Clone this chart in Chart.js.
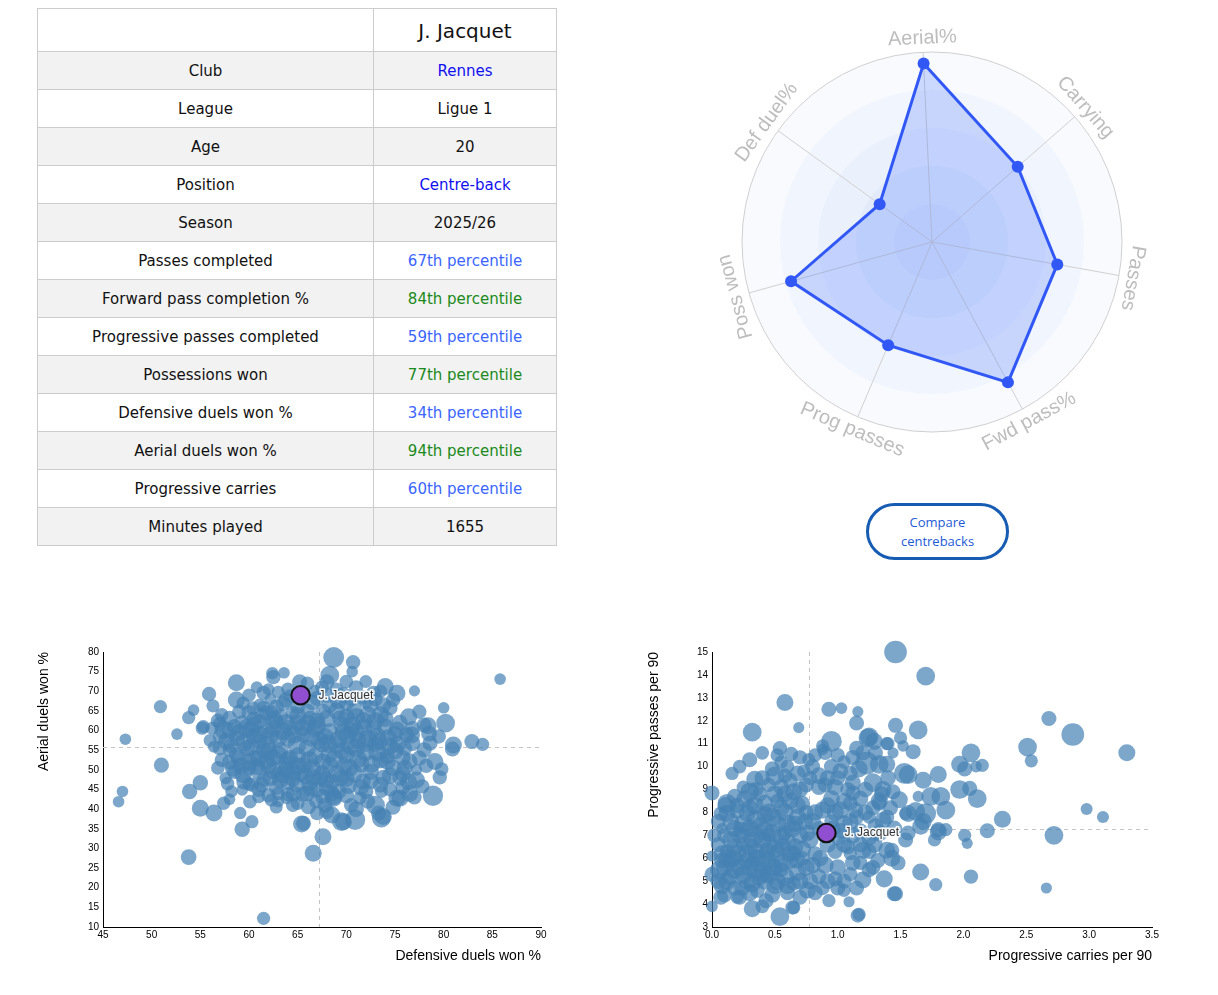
<!DOCTYPE html>
<html lang="en">
<head>
  <meta charset="UTF-8">
  <title>J. Jacquet</title>
  <script src="https://cdn.jsdelivr.net/npm/chart.js"></script>
  <style>
    body { margin: 0; background: #fff; width: 1218px; height: 995px; position: relative; overflow: hidden; }
    table { position: absolute; left: 37px; top: 8px; border-collapse: collapse; font-family: "DejaVu Sans", sans-serif; font-size: 15px; color: #111; }
    td { border: 1px solid #ccc; text-align: center; padding: 1px 0 0 0; height: 36px; }
    td.k { width: 335px; }
    td.v { width: 182px; }
    tr.head td { height: 41px; font-size: 20px; }
    tr.alt td { background: #f2f2f2; }
    .link { color: #1010ee; }
    .blue { color: #3a66ff; }
    .green { color: #1a8a1a; }
    canvas { position: absolute; }
    #compare { position: absolute; left: 866px; top: 503px; width: 143px; height: 57px; box-sizing: border-box;
      border: 3px solid #165cb3; border-radius: 29px; background: #fff; color: #1d5bd6;
      font-family: "Open Sans", sans-serif; font-size: 13px; line-height: 19px; padding: 0; }
  </style>
</head>
<body>
  <table id="profile"><tbody></tbody></table>
  <canvas id="radar" width="460" height="460" style="left:702px; top:12px;"></canvas>
  <button id="compare">Compare<br>centrebacks</button>
  <canvas id="duels" width="530" height="340" style="left:30px; top:640px;"></canvas>
  <canvas id="carries" width="530" height="340" style="left:640px; top:640px;"></canvas>
  <script>
    // profile table
    const player = 'J. Jacquet';
    const rowLabels = ['Club', 'League', 'Age', 'Position', 'Season', 'Passes completed', 'Forward pass completion %',
      'Progressive passes completed', 'Possessions won', 'Defensive duels won %', 'Aerial duels won %',
      'Progressive carries', 'Minutes played'];
    const rowValues = ['Rennes', 'Ligue 1', '20', 'Centre-back', '2025/26', 67, 84, 59, 77, 34, 94, 60, '1655'];
    const linkRows = ['Club', 'Position'];

    // radar
    const radarLabels = ['Aerial%', 'Carrying', 'Passes', 'Fwd pass%', 'Prog passes', 'Poss won', 'Def duel%'];
    const radarValues = [94, 60, 67, 84, 59, 77, 34];

    // defensive duels won % vs aerial duels won %, [x, y, minutes]
    const duelJacquet = [65.3, 69.0, 1655];
    const duelMedians = [67.2, 55.9];
    const duelPlayers = [
      [47.3,57.8,650],[50.9,66.1,850],[51.0,51.2,1100],[47.0,44.5,650],[46.6,41.9,650],[53.8,27.8,1200],[61.5,12.2,850],
      [52.6,59.1,650],[53.8,63.3,850],[54.3,65.2,650],[53.9,44.5,1150],[55.0,46.7,1150],[55.0,40.2,1400],[56.4,39.0,1400],
      [55.9,69.3,1000],[56.3,66.3,850],[58.7,72.2,1400],[56.4,55.9,700],[55.2,60.6,850],[57.6,47.9,750],[58.2,44.5,750],
      [57.4,41.5,850],[58.0,42.5,650],[59.1,39.0,750],[59.3,34.9,1150],[60.3,36.8,850],[59.3,44.9,650],[60.0,46.4,850],
      [65.4,36.2,1400],[66.6,28.8,1400],[67.6,33.0,1400],[67.0,39.0,1000],[62.4,74.6,750],[63.6,74.7,650],[62.5,73.6,1000],
      [61.5,69.6,1000],[65.2,72.4,1100],[58.7,67.8,1400],[59.4,67.0,850],[61.5,66.1,750],[63.5,66.9,1100],[62.2,68.0,700],
      [60.4,65.7,900],[61.1,66.5,800],[62.3,42.3,850],[63.0,41.9,650],[61.0,43.2,850],[63.9,42.9,800],[66.1,40.6,1100],
      [68.0,39.4,1100],[68.7,43.2,1400],[69.7,36.8,1400],[55.3,61.0,850],[56.2,60.6,800],[57.4,60.2,1700],[58.0,63.1,1100],
      [57.7,57.2,1400],[58.7,53.8,1100],[58.4,50.4,1400],[59.4,48.7,1400],[60.3,46.2,1000],[59.8,60.6,1700],[61.1,62.3,1100],
      [61.8,56.3,1700],[61.1,57.2,1100],[62.5,53.0,1400],[62.8,62.3,1100],[64.2,60.6,1400],[64.9,56.3,1700],[65.6,58.9,1200],
      [66.3,63.1,1100],[64.2,53.0,1300],[65.6,51.2,1300],[63.5,48.7,1400],[62.2,47.9,1200],[61.3,46.2,1100],[64.9,46.2,1200],
      [66.3,45.3,1200],[67.3,47.9,1300],[68.3,51.2,1400],[69.0,56.3,1500],[68.3,59.7,1400],[67.6,64.8,1200],[68.7,78.6,2100],
      [68.3,74.1,1700],[68.0,72.4,1100],[69.7,69.1,1200],[67.0,68.2,1100],[68.3,66.5,1200],[69.4,63.1,1300],[69.7,59.7,1400],
      [70.0,53.8,1400],[69.4,47.9,1300],[67.6,43.2,1200],[64.6,44.0,1200],[60.1,41.9,900],
      [70.7,77.4,1000],[70.6,75.0,650],[74.0,71.2,1400],[75.2,69.5,1400],[77.0,70.1,600],[72.8,69.5,1100],[80.0,65.8,650],
      [76.4,63.5,1400],[80.2,61.9,1700],[78.4,61.2,1400],[76.7,58.9,1400],[78.6,56.8,1100],[81.0,56.3,1400],[80.9,55.3,1100],
      [82.9,57.2,1100],[84.0,56.5,850],[79.1,52.1,1400],[77.2,50.0,650],[77.2,47.4,1400],[79.6,48.1,1000],[76.4,47.0,1400],
      [75.5,47.9,1100],[76.5,44.0,1400],[78.9,43.4,2000],[75.2,42.8,1400],[73.6,44.5,800],[71.4,42.8,850],[73.0,41.0,1700],
      [73.6,37.7,1700],[70.9,37.3,2000],[69.5,36.8,1700],[68.5,38.5,1400],[68.7,42.8,1400],[71.7,47.0,1200],[85.8,73.1,650],
      [73.3,39.0,1100],[73.8,38.1,1400],[65.6,36.4,1100],[76.2,58.9,1100],[78.0,55.1,1100],[78.0,61.4,1100],[75.5,42.8,1400],
      [60.5,58.5,1300],[61.8,60.0,1200],[63.0,58.0,1500],[63.2,55.0,1300],[62.0,51.0,1400],[63.8,51.5,1200],[64.5,49.5,1300],
      [65.8,48.5,1400],[66.5,50.5,1500],[66.8,53.5,1400],[66.0,55.5,1500],[67.5,56.5,1300],[67.8,58.5,1400],[66.8,60.5,1500],
      [65.0,62.0,1300],[66.0,65.0,1100],[64.5,64.5,1000],[63.2,63.5,1200],[62.3,64.8,900],[60.5,63.0,1000],[59.3,62.0,1100],
      [58.8,58.0,1200],[59.8,55.5,1300],[60.6,53.0,1200],[61.0,49.5,1300],[62.8,45.5,1100],[64.0,46.8,1100],[65.5,43.8,1100],
      [66.9,42.0,1000],[68.0,45.5,1300],[69.2,44.5,1200],[70.2,46.0,1400],[70.8,49.0,1500],[71.5,51.5,1400],[72.0,54.5,1500],
      [71.2,57.5,1400],[70.5,60.0,1300],[71.8,62.5,1500],[70.8,65.0,1300],[72.5,66.5,1200],[73.5,64.0,1400],[74.0,61.0,1300],
      [73.2,58.5,1500],[74.5,56.0,1400],[73.5,52.5,1400],[72.5,49.5,1300],[73.8,48.0,1200],[74.8,50.5,1300],[75.8,53.0,1200],
      [76.0,55.5,1100],[75.0,59.0,1300],[75.5,62.0,1200],[74.5,65.8,1100],[73.0,68.0,1000],[71.5,68.5,1100],[70.0,67.0,1200],
      [69.0,70.5,900],[71.0,71.0,1000],[72.0,72.5,800],[67.5,71.0,900],[66.8,70.0,800],[64.0,70.5,900],[63.0,69.8,800],
      [60.0,69.0,900],[60.8,71.0,700],[57.2,64.0,900],[56.8,62.5,1000],[58.5,61.0,1100],[57.0,58.5,1000],[58.0,55.0,900],
      [57.2,52.5,1000],[58.5,49.5,1000],[60.0,50.5,1100],[61.5,47.5,1000],[63.0,44.0,900],[65.0,41.5,900],[70.5,41.0,1000],
      [72.0,44.5,1100],[74.5,45.0,1000],[77.5,53.0,1100],[77.8,45.8,1000],[76.0,50.5,1200],[72.8,60.5,1300],[69.5,61.5,1300],
      [68.2,54.0,1400],[69.8,51.0,1300],[67.0,62.5,1300],[64.0,58.0,1400],[62.5,60.5,1400],[65.0,53.5,1400],[63.0,49.0,1100],
      [61.5,55.0,1300],[67.5,49.0,1300],[70.0,63.5,1300],[71.0,55.5,1500],[73.0,56.5,1300],[74.2,53.5,1200],[62.0,70.5,700],
      [59.5,57.0,1500],[60.2,60.2,1600],[61.0,59.0,1500],[62.2,58.8,1600],[63.5,59.8,1500],[64.6,59.0,1600],[65.5,60.8,1500],
      [66.4,58.2,1600],[67.2,57.5,1500],[68.1,56.6,1600],[69.2,57.8,1500],[70.1,58.8,1600],[71.0,59.6,1500],[72.2,58.0,1600],
      [73.4,57.2,1500],[74.3,58.2,1400],[75.3,56.5,1400],[70.4,56.2,1600],[69.6,54.8,1500],[68.8,52.8,1600],[67.6,52.0,1500],
      [66.2,52.5,1600],[65.0,51.0,1500],[64.0,52.5,1500],[63.0,53.8,1600],[62.0,54.6,1500],[61.0,53.0,1400],[60.0,52.0,1500],
      [59.2,51.0,1400],[60.8,50.8,1300],[62.5,49.8,1500],[63.8,50.0,1400],[65.2,49.2,1500],[66.6,48.2,1500],[67.9,47.5,1400],
      [69.0,49.0,1500],[70.3,50.5,1600],[71.2,52.8,1600],[72.6,51.5,1500],[73.2,54.5,1600],[74.2,52.2,1400],[75.0,54.8,1400],
      [72.0,56.8,1500],[70.6,61.5,1500],[71.8,60.8,1400],[73.0,62.5,1500],[72.2,64.0,1400],[71.0,63.5,1500],[69.0,65.0,1400],
      [68.0,63.0,1500],[67.0,61.2,1600],[66.0,61.8,1400],[65.0,63.8,1400],[63.8,62.0,1500],[62.6,62.8,1400],[61.5,63.8,1300],
      [60.5,61.2,1400],[59.0,59.5,1300],[58.2,56.2,1200],[59.0,53.0,1300],[60.2,55.8,1400],[61.8,52.2,1400],[63.2,47.5,1400],
      [64.5,47.8,1300],[66.2,46.8,1300],[67.0,45.0,1300],[68.5,47.0,1300],[70.0,47.8,1400],[71.5,45.5,1300],[72.5,47.2,1300],
      [73.5,46.2,1200],[74.5,48.5,1300],[75.8,49.0,1200],[76.5,52.2,1200],[76.8,56.8,1200],[75.2,60.2,1300],[74.0,63.0,1300],
      [73.8,66.5,1200],[72.0,67.5,1100],[70.5,68.2,1200],[69.2,67.5,1300],[68.0,69.0,1100],[66.5,67.2,1200],[65.0,66.2,1200],
      [63.8,67.8,1100],[62.8,66.0,1100],[61.8,64.5,1200],[60.0,64.5,1100],[59.0,64.8,1000],[58.0,60.0,1200],[57.0,55.5,1000],
      [58.0,52.0,1100],[59.5,47.0,1200],[61.0,45.0,1100],[62.0,43.5,1000],[64.0,43.8,1000],[66.0,44.0,1200],[68.5,44.0,1200],
      [70.0,43.5,1200],[71.0,40.0,1200],[72.2,42.0,1100],[67.8,41.0,1100],[64.5,41.0,900],[62.8,40.5,800],[57.8,46.5,900],
      [56.8,50.5,900],[56.0,57.5,800],[57.0,61.8,900],[76.8,60.5,1100],[77.5,64.8,1000],[74.8,67.8,1000],[73.5,70.0,900],
      [70.0,72.5,900],[66.0,72.0,900],[64.2,68.8,900],[78.2,51.0,1000],[77.0,43.0,1000],[79.5,58.5,1000],[78.5,59.2,1200],
      [79.8,50.2,900],[74.8,40.5,1100],[75.8,45.5,1100]
    ];

    // progressive carries per 90 vs progressive passes per 90, [x, y, minutes]
    const carryJacquet = [0.91, 7.1, 1655];
    const carryMedians = [0.77, 7.28];
    const carryPlayers = [
      [1.46,15.0,2500],[1.70,13.95,1700],[0.58,12.8,1400],[0.93,12.5,1100],[1.03,12.55,650],[1.16,12.4,600],[1.15,11.9,1100],
      [0.69,11.7,600],[0.32,11.5,1700],[0.95,11.1,2100],[0.88,10.9,850],[0.54,10.8,1000],[0.63,10.55,1000],[0.30,10.3,1100],
      [0.55,10.2,850],[0.16,9.7,850],[0.34,9.45,1400],[0.30,8.9,1700],[0.0,8.85,1100],[0.50,9.6,1700],[0.77,10.3,850],
      [1.24,11.25,1700],[1.29,11.1,1400],[1.39,11.0,850],[1.46,11.8,1100],[1.50,11.25,850],[1.52,10.9,650],[1.44,10.6,600],
      [1.15,10.8,1100],[1.33,10.1,1700],[1.53,9.7,2100],[1.17,9.9,1400],[1.28,9.3,1700],[1.44,8.9,1100],[1.49,8.55,1400],
      [1.33,8.5,1400],[1.12,8.85,1100],[1.25,7.8,850],[1.36,7.65,1400],[1.54,7.95,850],[1.56,7.1,1100],[1.33,7.1,1400],
      [1.20,6.35,1400],[1.39,6.35,1400],[1.08,6.5,1100],[1.10,6.2,850],[1.28,5.6,1100],[1.37,5.1,1400],[1.20,5.05,1400],
      [1.10,5.3,1000],[1.46,4.45,1100],[1.09,4.1,600],[1.16,3.5,1000],[0.93,4.15,850],[0.64,3.85,1000],[0.54,3.45,1700],
      [0.32,3.8,1400],[0.0,3.9,650],[0.07,4.3,1100],[0.20,4.3,850],[0.08,4.8,1400],[0.0,5.3,1100],[0.06,5.5,1700],
      [0.0,6.1,600],[0.08,6.2,1400],[0.12,7.95,1400],[0.07,7.95,1000],[0.12,8.4,1700],[0.20,8.3,1100],[0.28,7.95,1400],
      [0.65,3.85,850],[0.76,4.6,1400],[0.43,4.15,1100],[0.22,4.3,1100],[0.08,7.3,600],[0.11,8.3,1400],[0.73,9.8,850],
      [0.88,10.75,650],
      [1.64,11.6,1700],[1.25,11.3,1700],[1.40,11.0,850],[1.60,10.65,1100],[2.06,10.6,1700],[1.97,10.1,1400],[2.01,9.9,1100],
      [2.10,10.0,650],[2.15,10.05,850],[1.23,10.15,2500],[1.39,10.1,1400],[1.68,9.4,1400],[1.80,9.65,1400],[1.97,9.0,1700],
      [2.05,9.05,1100],[2.11,8.6,1700],[1.82,8.7,1700],[1.74,8.7,1700],[1.64,8.7,600],[1.86,8.1,1700],[1.70,7.95,2100],
      [1.62,8.05,1700],[1.56,7.95,1400],[1.66,7.4,1400],[1.80,7.25,1100],[1.86,7.25,850],[1.68,7.6,1400],[1.77,6.8,850],
      [2.01,7.0,850],[2.03,6.65,600],[1.54,6.8,1100],[1.43,6.35,1100],[1.43,6.0,1400],[1.29,6.6,1400],[1.66,5.4,1400],
      [1.78,4.85,850],[2.06,5.2,1000],[1.45,4.45,1100],[1.25,5.5,1100],[1.17,3.55,850],[1.39,7.8,1100],[1.33,8.4,1100],
      [1.36,9.0,1400],[2.31,7.7,1400],[2.98,8.15,700],[3.11,7.8,700],[2.72,7.0,1700],[2.19,7.2,1100],[2.68,12.1,1100],
      [2.87,11.4,2500],[3.30,10.6,1400],[2.51,10.85,1700],[2.54,10.25,850],[2.66,4.7,600],[1.80,7.15,1400],[1.56,9.65,1700],
      [0.15,5.9,1400],[0.18,6.5,1400],[0.22,7.0,1400],[0.25,7.5,1700],[0.20,8.05,1100],[0.30,8.2,1400],[0.35,7.7,1700],
      [0.32,6.8,1400],[0.28,6.2,1700],[0.22,5.6,1400],[0.15,5.2,1400],[0.28,5.0,1400],[0.35,5.5,1700],[0.40,6.0,1700],
      [0.45,6.6,1700],[0.42,7.2,1700],[0.48,7.8,1700],[0.42,8.4,1400],[0.50,8.8,1400],[0.55,8.2,1400],[0.60,7.5,1700],
      [0.55,6.9,1400],[0.52,6.2,1400],[0.48,5.6,1700],[0.42,5.0,1400],[0.36,4.6,1100],[0.50,4.8,1400],[0.58,5.2,1700],
      [0.62,5.9,1400],[0.66,6.5,1400],[0.70,7.0,1400],[0.68,7.8,1400],[0.72,8.4,1100],[0.65,8.9,1400],[0.62,9.4,1100],
      [0.75,9.2,1100],[0.85,9.6,1400],[0.90,9.2,1100],[0.95,8.6,1400],[0.88,8.1,1400],[0.80,7.6,1400],[0.78,6.8,1400],
      [0.82,6.2,1100],[0.75,5.6,1400],[0.70,5.0,1400],[0.85,5.2,1100],[0.90,5.7,1400],[0.98,6.3,1100],[1.00,6.9,1100],
      [1.05,7.5,1400],[1.02,8.1,1400],[1.10,8.4,1100],[1.08,9.0,1100],[1.00,9.5,1100],[0.95,10.0,1100],[1.05,10.2,850],
      [1.10,9.7,1100],[1.18,7.2,1100],[1.15,7.8,1100],[1.18,5.8,1000],[0.98,5.1,1100],[0.88,4.7,1000],[1.05,4.6,850],
      [0.60,4.5,1100],[0.30,4.5,1400],[0.10,5.6,1400],[0.05,6.6,1100],[0.10,7.0,1100],[0.15,7.6,1400],[0.38,8.8,1100],
      [0.45,9.2,1000],[0.25,9.1,900],[0.60,10.0,900],[0.70,10.4,1000],[0.82,10.5,900],[0.25,6.6,1100],[0.32,5.8,1100],
      [0.40,5.3,1400],[0.55,5.5,1100],[0.65,6.2,1100],[0.58,7.1,1100],[0.35,6.3,1400],[0.45,7.0,1000],[0.52,8.5,1000],
      [0.75,8.0,1100],[0.85,7.3,1100],[0.95,7.6,1000],[0.72,6.0,1000],[0.65,4.9,1000],[0.18,4.7,1100],[0.12,6.3,1000],
      [0.40,3.9,900],[0.78,9.5,1000],[0.58,9.6,1000],
      [0.12,5.0,1500],[0.18,5.5,1600],[0.12,6.0,1500],[0.20,6.2,1600],[0.15,6.8,1500],[0.24,7.2,1600],[0.18,7.3,1400],
      [0.30,7.3,1500],[0.26,8.6,1400],[0.34,8.3,1500],[0.38,7.4,1600],[0.40,6.8,1600],[0.36,6.0,1600],[0.30,5.6,1500],
      [0.25,5.3,1600],[0.32,4.9,1500],[0.38,5.2,1500],[0.45,5.3,1600],[0.44,5.9,1600],[0.50,6.4,1600],[0.48,7.1,1600],
      [0.52,7.5,1500],[0.45,8.0,1500],[0.58,8.0,1500],[0.62,8.5,1400],[0.58,8.8,1400],[0.68,8.3,1400],[0.64,7.3,1500],
      [0.60,6.7,1600],[0.56,5.8,1600],[0.52,5.0,1500],[0.60,4.8,1400],[0.68,5.4,1500],[0.72,6.4,1400],[0.76,7.1,1300],
      [0.74,7.6,1300],[0.82,8.0,1300],[0.92,8.3,1300],[0.98,8.0,1400],[1.05,8.5,1300],[0.98,9.1,1300],[0.92,9.5,1200],
      [0.85,9.1,1200],[0.70,9.0,1300],[0.55,9.1,1200],[0.40,9.5,1200],[0.48,9.9,1100],[0.68,9.7,1200],[0.80,10.0,1100],
      [1.02,9.8,1200],[1.12,9.3,1200],[1.18,8.6,1200],[1.22,8.0,1200],[1.10,7.6,1300],[1.12,7.0,1300],[1.05,6.6,1300],
      [0.92,6.6,1300],[0.86,6.0,1300],[0.80,5.7,1300],[0.78,5.0,1300],[0.92,5.0,1200],[1.00,5.6,1300],[1.12,5.8,1200],
      [1.18,6.6,1200],[1.25,6.9,1200],[1.30,7.4,1200],[1.00,4.7,1100],[0.82,4.5,1100],[0.70,4.3,1100],[0.48,4.4,1200],
      [0.24,4.7,1200],[0.10,4.4,1100],[0.05,5.0,1200],[0.08,5.9,1200],[0.02,7.0,1000],[0.05,7.6,1100],[0.18,8.7,1100],
      [0.35,9.0,1100],[0.42,7.9,1400],[0.30,6.5,1500],[0.35,7.0,1400],[0.62,6.2,1400],[0.68,5.9,1300],[0.56,6.5,1400],
      [0.50,5.6,1400],[0.44,6.3,1400],[0.90,7.0,1200],[0.96,7.3,1200],[1.02,7.2,1200],[0.66,7.5,1300],[0.18,6.0,1300],
      [0.28,5.9,1300],[1.14,8.1,1200],[1.22,9.0,1200],[1.28,8.2,1100],[1.35,8.8,1200],[1.42,8.2,1100],[1.45,7.3,1200],
      [1.25,6.3,1100],[1.32,5.9,1100],[1.48,5.8,1100],[1.15,4.7,1100],[1.05,5.0,1100],[0.90,10.6,1000],[1.00,10.5,1000],
      [1.12,10.4,1100],[1.30,10.6,1100],[1.40,9.5,1200],[1.20,10.6,1100],[0.40,10.6,900],[0.22,10.0,900],[0.52,10.5,900]
    ];

    // table
    const tbody = document.querySelector('#profile tbody');
    tbody.innerHTML = `<tr class="head"><td class="k"></td><td class="v">${player}</td></tr>`;
    rowLabels.forEach((label, i) => {
      const v = rowValues[i];
      let cell;
      if (typeof v === 'number') cell = `<span class="${v >= 70 ? 'green' : 'blue'}">${v}th percentile</span>`;
      else if (linkRows.includes(label)) cell = `<span class="link">${v}</span>`;
      else cell = v;
      const row = document.createElement('tr');
      if (i % 2 === 0) row.className = 'alt';
      row.innerHTML = `<td class="k">${label}</td><td class="v">${cell}</td>`;
      tbody.appendChild(row);
    });

    // radar background rings and rotated labels
    const radarDecor = {
      id: 'radarDecor',
      beforeDraw(chart) {
        const s = chart.scales.r, ctx = chart.ctx;
        ctx.save();
        ctx.fillStyle = 'rgba(60,120,220,0.035)';
        for (let k = 5; k >= 1; k--) {
          ctx.beginPath();
          ctx.arc(s.xCenter, s.yCenter, s.drawingArea * k / 5, 0, Math.PI * 2);
          ctx.fill();
        }
        ctx.restore();
      },
      afterDraw(chart) {
        const s = chart.scales.r, ctx = chart.ctx;
        ctx.save();
        ctx.font = '20px "Liberation Sans", Arial, sans-serif';
        ctx.fillStyle = '#bdbdbd';
        ctx.textAlign = 'center';
        ctx.textBaseline = 'middle';
        radarLabels.forEach((label, i) => {
          const p = s.getPointPosition(i, s.drawingArea + 14);
          let a = s.getIndexAngle(i);
          if (Math.cos(a) < -0.5) a -= Math.PI;
          ctx.save();
          ctx.translate(p.x, p.y);
          ctx.rotate(a);
          ctx.fillText(label, 0, 0);
          ctx.restore();
        });
        ctx.restore();
      }
    };

    new Chart(document.getElementById('radar'), {
      type: 'radar',
      data: {
        labels: radarLabels,
        datasets: [{
          data: radarValues,
          borderColor: '#3158f5',
          backgroundColor: 'rgba(51,102,255,0.22)',
          borderWidth: 3,
          pointRadius: 6,
          pointBorderWidth: 0,
          pointBackgroundColor: '#3158f5',
          fill: true
        }]
      },
      options: {
        responsive: false,
        animation: false,
        layout: { padding: 40 },
        plugins: { legend: { display: false }, tooltip: { enabled: false } },
        scales: {
          r: {
            min: 0, max: 100,
            startAngle: -2.7,
            ticks: { display: false, stepSize: 20 },
            pointLabels: { display: false },
            angleLines: { color: '#d0d0d0' },
            grid: { circular: true, color: c => c.tick && c.tick.value === 100 ? '#cfcfcf' : 'rgba(0,0,0,0)' }
          }
        }
      },
      plugins: [radarDecor]
    });

    // bubble scatter charts
    const bubbleDecor = {
      id: 'bubbleDecor',
      beforeDatasetsDraw(chart) {
        const { ctx, chartArea: a, scales: { x, y } } = chart;
        const med = chart.options.plugins.bubbleDecor.medians;
        const px = x.getPixelForValue(med[0]), py = y.getPixelForValue(med[1]);
        ctx.save();
        ctx.strokeStyle = '#c4c4c4';
        ctx.lineWidth = 1;
        ctx.setLineDash([4, 4]);
        ctx.beginPath();
        ctx.moveTo(Math.round(px) + 0.5, a.top);
        ctx.lineTo(Math.round(px) + 0.5, a.bottom);
        ctx.moveTo(a.left, Math.round(py) + 0.5);
        ctx.lineTo(a.right, Math.round(py) + 0.5);
        ctx.stroke();
        ctx.restore();
      },
      afterDatasetsDraw(chart) {
        const { ctx, scales: { x, y } } = chart;
        const star = chart.options.plugins.bubbleDecor.star;
        const px = x.getPixelForValue(star[0]) + 18, py = y.getPixelForValue(star[1]);
        ctx.save();
        ctx.font = '12px "Liberation Sans", Arial, sans-serif';
        ctx.textBaseline = 'middle';
        ctx.lineWidth = 3;
        ctx.strokeStyle = 'rgba(255,255,255,0.9)';
        ctx.strokeText(player, px, py);
        ctx.fillStyle = '#333';
        ctx.fillText(player, px, py);
        ctx.restore();
      }
    };

    const toBubble = p => ({ x: p[0], y: p[1], r: Math.sqrt(p[2]) / 4.4 });
    const tickFont = { family: '"Liberation Sans", Arial, sans-serif', size: 10 };
    const titleFont = { family: '"Liberation Sans", Arial, sans-serif', size: 14 };

    function bubbleChart(id, players, star, medians, xr, yr, xTitle, yTitle, yWidth, padRight, fmt) {
      new Chart(document.getElementById(id), {
        type: 'bubble',
        data: {
          datasets: [
            { data: [toBubble(star)], backgroundColor: '#8f4fd0', borderColor: '#111', borderWidth: 2, order: 0, clip: false },
            { data: players.map(toBubble), backgroundColor: 'rgba(70,130,180,0.7)', borderWidth: 0, order: 1, clip: false }
          ]
        },
        options: {
          responsive: false,
          animation: false,
          layout: { padding: { left: 6, top: 12, right: padRight, bottom: 15 } },
          plugins: { legend: { display: false }, tooltip: { enabled: false }, bubbleDecor: { medians, star } },
          scales: {
            x: {
              type: 'linear', min: xr[0], max: xr[1],
              grid: { display: false, drawTicks: false },
              border: { color: '#000', width: 1 },
              ticks: { stepSize: xr[2], color: '#000', font: tickFont, padding: 2, maxRotation: 0, callback: fmt },
              title: { display: true, text: xTitle, align: 'end', color: '#000', font: titleFont, padding: 0 },
              afterFit: s => { s.height = 38; }
            },
            y: {
              type: 'linear', min: yr[0], max: yr[1],
              grid: { display: false, drawTicks: false },
              border: { color: '#000', width: 1 },
              ticks: { stepSize: yr[2], color: '#000', font: tickFont, padding: 4 },
              title: { display: true, text: yTitle, align: 'end', color: '#000', font: titleFont, padding: 0 },
              afterFit: s => { s.width = yWidth; }
            }
          }
        },
        plugins: [bubbleDecor]
      });
    }

    bubbleChart('duels', duelPlayers, duelJacquet, duelMedians, [45, 90, 5], [10, 80, 5],
      'Defensive duels won %', 'Aerial duels won %', 67, 19, v => v);
    bubbleChart('carries', carryPlayers, carryJacquet, carryMedians, [0, 3.5, 0.5], [3, 15, 1],
      'Progressive carries per 90', 'Progressive passes per 90', 66, 18, v => v.toFixed(1));
  </script>
</body>
</html>
